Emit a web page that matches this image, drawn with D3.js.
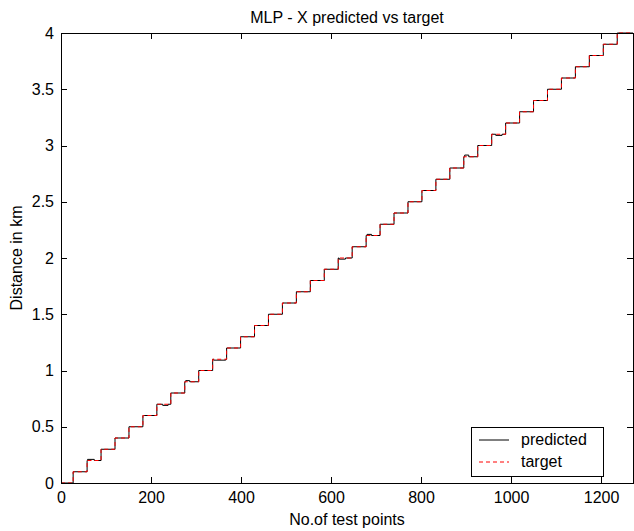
<!DOCTYPE html>
<html>
<head>
<meta charset="utf-8">
<script src="https://cdn.jsdelivr.net/npm/d3@7"></script>
<style>
  body { margin: 0; background: #fff; }
  svg { font-family: "Liberation Sans", Arial, sans-serif; }
  .axis text { font-size: 16px; fill: #000; }
  .axis line, .axis path { stroke: #000; }
</style>
</head>
<body>
<script>
// step levels of the target (km), one per block of test points
const levels = [0, 0.1, 0.2, 0.3, 0.4, 0.5, 0.6, 0.7, 0.8, 0.9,
                1.0, 1.1, 1.2, 1.3, 1.4, 1.5, 1.6, 1.7, 1.8, 1.9,
                2.0, 2.1, 2.2, 2.3, 2.4, 2.5, 2.6, 2.7, 2.8, 2.9,
                3.0, 3.1, 3.2, 3.3, 3.4, 3.5, 3.6, 3.7, 3.8, 3.9, 4.0];
// test point index where each level starts
const stepStarts = [0, 27, 58, 89, 120, 151, 182, 213, 244, 275,
                    306, 337, 368, 399, 430, 461, 492, 523, 554, 585,
                    616, 647, 678, 709, 740, 771, 802, 833, 864, 895,
                    926, 957, 988, 1019, 1050, 1081, 1112, 1143, 1174, 1205, 1236];
const lastPoint = 1271;
// places where the prediction leaves the target: [from, to, value]
const predictedBumps = [[59, 74, 0.21], [226, 238, 0.69], [277, 286, 0.91],
                        [339, 366, 1.092], [618, 632, 1.99], [680, 690, 2.21],
                        [897, 906, 2.915], [966, 980, 3.09]];
const xTicks = [0, 200, 400, 600, 800, 1000, 1200];
const yTicks = [0, 0.5, 1, 1.5, 2, 2.5, 3, 3.5, 4];
const legendLabels = ["predicted", "target"];

const W = 634, H = 531;
const margin = {top: 33, right: 1, bottom: 48, left: 61};
const width = W - margin.left - margin.right;   // 572
const height = H - margin.top - margin.bottom;  // 450

var svg = d3.select("body").append("svg")
    .attr("width", W)
    .attr("height", H);

var g = svg.append("g")
    .attr("transform", "translate(" + margin.left + "," + margin.top + ")");

var x = d3.scaleLinear().domain([0, lastPoint]).range([0, width]);
var y = d3.scaleLinear().domain([0, 4]).range([height, 0]);

// target points from the level table
var target = levels.map((v, i) => [stepStarts[i], v]);
target.push([lastPoint, levels[levels.length - 1]]);

// predicted = target with the small deviations put in
function levelAt(px) {
    var i = d3.bisectRight(stepStarts, px) - 1;
    return levels[i];
}
var predicted = target.slice();
predictedBumps.forEach(b => {
    predicted.push([b[0], b[2]]);
    predicted.push([b[1], levelAt(b[1])]);
});
predicted.sort((a, b) => a[0] - b[0]);

var line = d3.line()
    .x(d => x(d[0]))
    .y(d => y(d[1]))
    .curve(d3.curveStepAfter);

g.append("path")
    .datum(predicted)
    .attr("fill", "none")
    .attr("stroke", "#000")
    .attr("stroke-width", 1)
    .attr("d", line);

g.append("path")
    .datum(target)
    .attr("fill", "none")
    .attr("stroke", "#ff0000")
    .attr("stroke-width", 1)
    .attr("stroke-dasharray", "4,3")
    .attr("d", line);

// axes, ticks pointing inward on all four sides
g.append("g")
    .attr("class", "axis")
    .attr("transform", "translate(0," + height + ")")
    .call(d3.axisBottom(x).tickValues(xTicks).tickSizeInner(-6).tickSizeOuter(0).tickPadding(9).tickFormat(d => d));

g.append("g")
    .attr("class", "axis")
    .call(d3.axisTop(x).tickValues(xTicks).tickSizeInner(-6).tickSizeOuter(0).tickFormat(""));

g.append("g")
    .attr("class", "axis")
    .call(d3.axisLeft(y).tickValues(yTicks).tickSizeInner(-6).tickSizeOuter(0).tickPadding(7).tickFormat(d => d));

g.append("g")
    .attr("class", "axis")
    .attr("transform", "translate(" + width + ",0)")
    .call(d3.axisRight(y).tickValues(yTicks).tickSizeInner(-6).tickSizeOuter(0).tickFormat(""));

g.selectAll(".axis .domain").attr("shape-rendering", "crispEdges");
g.selectAll(".axis line").attr("shape-rendering", "crispEdges");

// title and axis labels
svg.append("text")
    .attr("x", margin.left + width / 2)
    .attr("y", 23)
    .attr("text-anchor", "middle")
    .style("font-size", "16px")
    .text("MLP - X predicted vs target");

svg.append("text")
    .attr("x", margin.left + width / 2)
    .attr("y", 525)
    .attr("text-anchor", "middle")
    .style("font-size", "16px")
    .text("No.of test points");

svg.append("text")
    .attr("transform", "translate(22," + (margin.top + height / 2) + ") rotate(-90)")
    .attr("text-anchor", "middle")
    .style("font-size", "16px")
    .text("Distance in km");

// legend
var legend = svg.append("g").attr("transform", "translate(471,427)");
legend.append("rect")
    .attr("width", 132)
    .attr("height", 49)
    .attr("fill", "#fff")
    .attr("stroke", "#000")
    .attr("shape-rendering", "crispEdges");

legendLabels.forEach((lab, i) => {
    var ly = 13 + i * 22;
    legend.append("line")
        .attr("x1", 8).attr("x2", 38)
        .attr("y1", ly).attr("y2", ly)
        .attr("stroke", i == 0 ? "#000" : "#ff0000")
        .attr("stroke-dasharray", i == 0 ? null : "4,3");
    legend.append("text")
        .attr("x", 50)
        .attr("y", ly + 5)
        .style("font-size", "16px")
        .text(lab);
});
</script>
</body>
</html>
